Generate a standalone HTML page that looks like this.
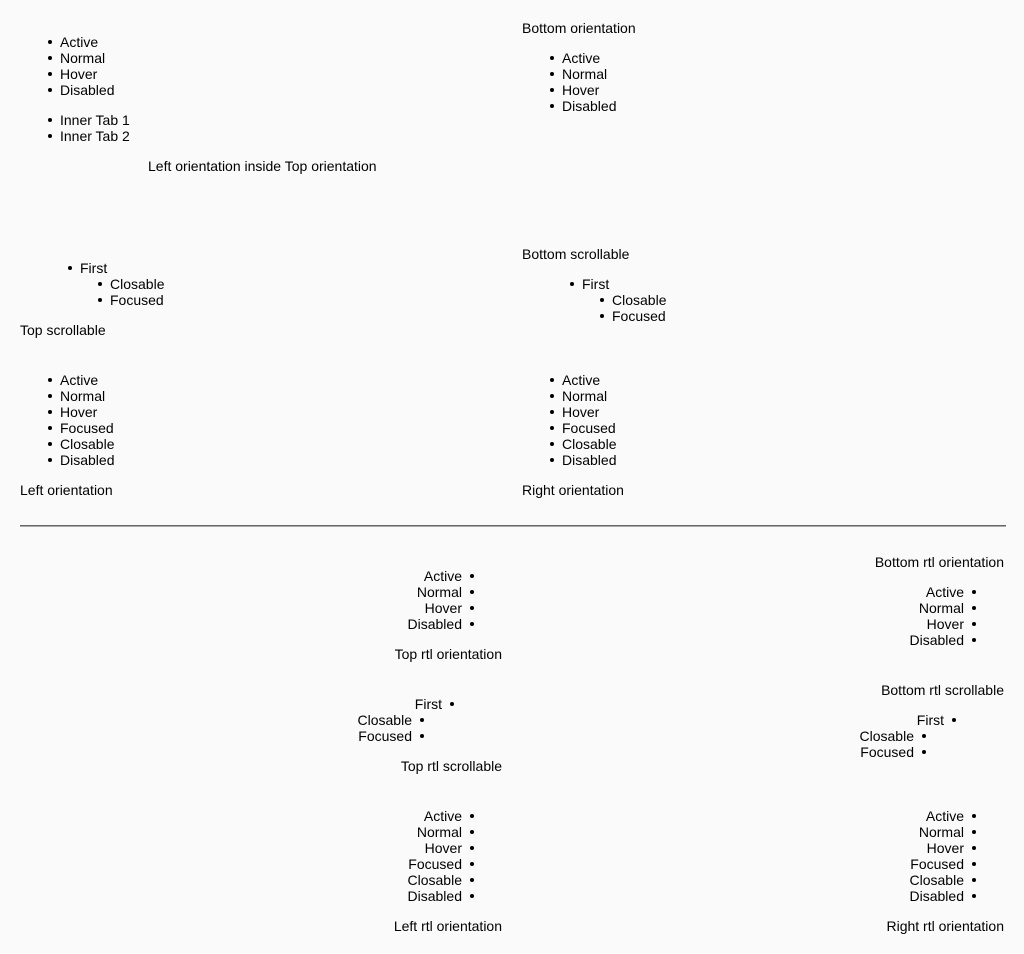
<!DOCTYPE html>
<html><head><meta charset="utf-8"><style>
html,body{margin:0;padding:0;background:#fafafa;}
body{width:1024px;height:954px;position:relative;overflow:hidden;font-family:"Liberation Sans",sans-serif;font-size:14px;color:#000;}
.t{position:absolute;line-height:16px;white-space:nowrap;}
.l::before{content:"";position:absolute;left:-12px;top:6px;width:4px;height:4px;border-radius:50%;background:#000;}
.r{text-align:right;}
.r::after{content:"";position:absolute;right:-12px;top:6px;width:4px;height:4px;border-radius:50%;background:#000;}
.hr{position:absolute;left:20px;top:525px;width:986px;height:0;border-top:1px solid #666;border-bottom:1px solid #aaa;}
</style></head><body>
<div class="t l" style="left:60px;top:34px">Active</div>
<div class="t l" style="left:60px;top:50px">Normal</div>
<div class="t l" style="left:60px;top:66px">Hover</div>
<div class="t l" style="left:60px;top:82px">Disabled</div>
<div class="t l" style="left:60px;top:112px">Inner Tab 1</div>
<div class="t l" style="left:60px;top:128px">Inner Tab 2</div>
<div class="t" style="left:148px;top:158px">Left orientation inside Top orientation</div>

<div class="t" style="left:522px;top:20px">Bottom orientation</div>
<div class="t l" style="left:562px;top:50px">Active</div>
<div class="t l" style="left:562px;top:66px">Normal</div>
<div class="t l" style="left:562px;top:82px">Hover</div>
<div class="t l" style="left:562px;top:98px">Disabled</div>

<div class="t l" style="left:80px;top:260px">First</div>
<div class="t l" style="left:110px;top:276px">Closable</div>
<div class="t l" style="left:110px;top:292px">Focused</div>
<div class="t" style="left:20px;top:322px">Top scrollable</div>

<div class="t" style="left:522px;top:246px">Bottom scrollable</div>
<div class="t l" style="left:582px;top:276px">First</div>
<div class="t l" style="left:612px;top:292px">Closable</div>
<div class="t l" style="left:612px;top:308px">Focused</div>

<div class="t l" style="left:60px;top:372px">Active</div>
<div class="t l" style="left:60px;top:388px">Normal</div>
<div class="t l" style="left:60px;top:404px">Hover</div>
<div class="t l" style="left:60px;top:420px">Focused</div>
<div class="t l" style="left:60px;top:436px">Closable</div>
<div class="t l" style="left:60px;top:452px">Disabled</div>
<div class="t" style="left:20px;top:482px">Left orientation</div>

<div class="t l" style="left:562px;top:372px">Active</div>
<div class="t l" style="left:562px;top:388px">Normal</div>
<div class="t l" style="left:562px;top:404px">Hover</div>
<div class="t l" style="left:562px;top:420px">Focused</div>
<div class="t l" style="left:562px;top:436px">Closable</div>
<div class="t l" style="left:562px;top:452px">Disabled</div>
<div class="t" style="left:522px;top:482px">Right orientation</div>

<div class="hr"></div>

<div class="t r" style="right:562px;top:568px">Active</div>
<div class="t r" style="right:562px;top:584px">Normal</div>
<div class="t r" style="right:562px;top:600px">Hover</div>
<div class="t r" style="right:562px;top:616px">Disabled</div>
<div class="t" style="right:522px;top:646px">Top rtl orientation</div>

<div class="t" style="right:20px;top:554px">Bottom rtl orientation</div>
<div class="t r" style="right:60px;top:584px">Active</div>
<div class="t r" style="right:60px;top:600px">Normal</div>
<div class="t r" style="right:60px;top:616px">Hover</div>
<div class="t r" style="right:60px;top:632px">Disabled</div>

<div class="t r" style="right:582px;top:696px">First</div>
<div class="t r" style="right:612px;top:712px">Closable</div>
<div class="t r" style="right:612px;top:728px">Focused</div>
<div class="t" style="right:522px;top:758px">Top rtl scrollable</div>

<div class="t" style="right:20px;top:682px">Bottom rtl scrollable</div>
<div class="t r" style="right:80px;top:712px">First</div>
<div class="t r" style="right:110px;top:728px">Closable</div>
<div class="t r" style="right:110px;top:744px">Focused</div>

<div class="t r" style="right:562px;top:808px">Active</div>
<div class="t r" style="right:562px;top:824px">Normal</div>
<div class="t r" style="right:562px;top:840px">Hover</div>
<div class="t r" style="right:562px;top:856px">Focused</div>
<div class="t r" style="right:562px;top:872px">Closable</div>
<div class="t r" style="right:562px;top:888px">Disabled</div>
<div class="t" style="right:522px;top:918px">Left rtl orientation</div>

<div class="t r" style="right:60px;top:808px">Active</div>
<div class="t r" style="right:60px;top:824px">Normal</div>
<div class="t r" style="right:60px;top:840px">Hover</div>
<div class="t r" style="right:60px;top:856px">Focused</div>
<div class="t r" style="right:60px;top:872px">Closable</div>
<div class="t r" style="right:60px;top:888px">Disabled</div>
<div class="t" style="right:20px;top:918px">Right rtl orientation</div>
</body></html>
